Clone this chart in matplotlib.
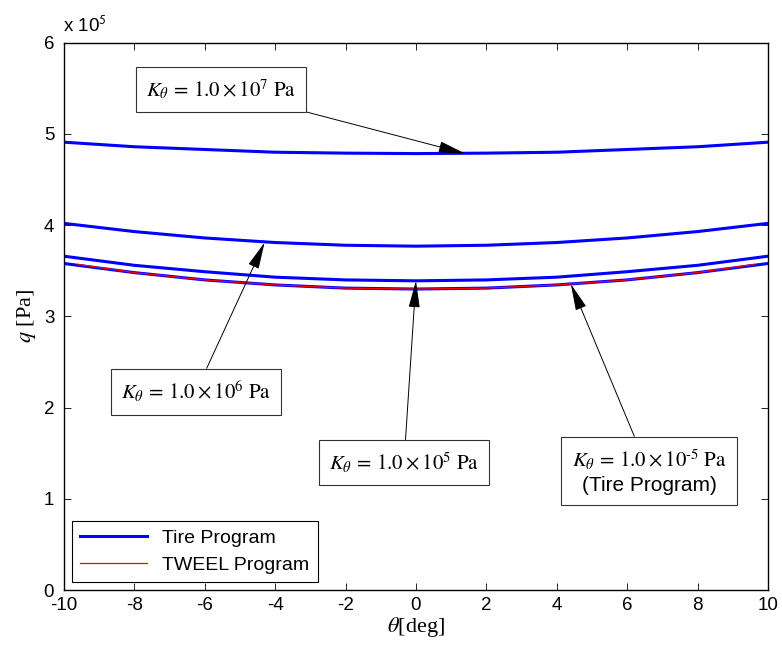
import numpy as np
import matplotlib
matplotlib.use('Agg')
import matplotlib.pyplot as plt

plt.rcParams['font.family'] = ['Liberation Sans', 'DejaVu Sans']
plt.rcParams['mathtext.fontset'] = 'stix'
plt.rcParams['axes.unicode_minus'] = False

# angle [deg]
theta = [-10, -8, -6, -4, -2, 0, 2, 4, 6, 8, 10]
# contact pressure q, in units of 1e5 Pa
q_k7 = [4.91, 4.86, 4.83, 4.80, 4.79, 4.785, 4.79, 4.80, 4.83, 4.86, 4.91]
q_k6 = [4.02, 3.93, 3.86, 3.81, 3.78, 3.77, 3.78, 3.81, 3.86, 3.93, 4.02]
q_k5 = [3.66, 3.56, 3.49, 3.43, 3.40, 3.39, 3.40, 3.43, 3.49, 3.56, 3.66]
q_km5 = [3.58, 3.48, 3.40, 3.345, 3.31, 3.30, 3.31, 3.345, 3.40, 3.48, 3.58]
# TWEEL program
theta_tw = [-9.6, -8, -6, -4, -2, 0, 2, 4, 6, 8, 9.6]
q_tw = [3.57, 3.48, 3.40, 3.345, 3.31, 3.30, 3.31, 3.345, 3.40, 3.48, 3.57]

fig = plt.figure(figsize=(7.82, 6.58), dpi=100)
ax = fig.add_axes([0.0818, 0.1033, 0.9002, 0.8317])

blue = '#0000ff'
ax.plot(theta, q_k7, color=blue, lw=2.2, label='Tire Program')
ax.plot(theta, q_k6, color=blue, lw=2.2)
ax.plot(theta, q_k5, color=blue, lw=2.2)
ax.plot(theta, q_km5, color=blue, lw=2.2)
ax.plot(theta_tw, q_tw, color='#ff0000', lw=0.9, label='TWEEL Program')

ax.set_xlim(-10, 10)
ax.set_ylim(0, 6)
ax.set_xticks(np.arange(-10, 11, 2))
ax.set_yticks(np.arange(0, 7, 1))
ax.tick_params(direction='in', top=True, right=True, labelsize=13.5, length=5, width=0.6)
ax.tick_params(axis='x', pad=5)
ax.tick_params(axis='y', pad=7)
for s in ax.spines.values():
    s.set_linewidth(1.0)

ax.set_xlabel(r'$\theta$[deg]', fontsize=16, family='Liberation Serif', labelpad=1)
ax.set_ylabel(r'$q$ [Pa]', fontsize=16, family='Liberation Serif', labelpad=4)
fig.text(0.081, 0.952, r'x 10$^{\mathsf{5}}$', fontsize=13.5, ha='left', va='baseline')

box = dict(boxstyle='square,pad=0.5', fc='white', ec='#333333', lw=0.8)
arr = dict(arrowstyle='-|>,head_length=1.2,head_width=0.25', mutation_scale=14,
           color='k', lw=0.7, shrinkA=0, shrinkB=0)

notes = [
    (r'$K_{\theta}\,=\,1.0\times10^{7}\ \mathrm{Pa}$', (1.4, 4.785), (-5.54, 5.487)),
    (r'$K_{\theta}\,=\,1.0\times10^{6}\ \mathrm{Pa}$', (-4.3, 3.81), (-6.25, 2.175)),
    (r'$K_{\theta}\,=\,1.0\times10^{5}\ \mathrm{Pa}$', (0.0, 3.39), (-0.34, 1.397)),
    (r'$K_{\theta}\,=\,1.0\times10^{\text{-}5}\ \mathrm{Pa}$' + '\n(Tire Program)',
     (4.4, 3.356), (6.62, 1.30)),
]
for txt, xy, xyt in notes:
    ax.annotate(txt, xy=xy, xytext=xyt, fontsize=15, ha='center', va='center',
                bbox=box, arrowprops=arr, linespacing=1.25)

leg = ax.legend(loc='lower left', fontsize=14, handlelength=3.4, fancybox=False,
                framealpha=1, borderaxespad=0.4, labelspacing=0.45, borderpad=0.45)
leg.get_frame().set_edgecolor('k')
leg.get_frame().set_linewidth(0.8)

fig.savefig('out.png', dpi=100)
